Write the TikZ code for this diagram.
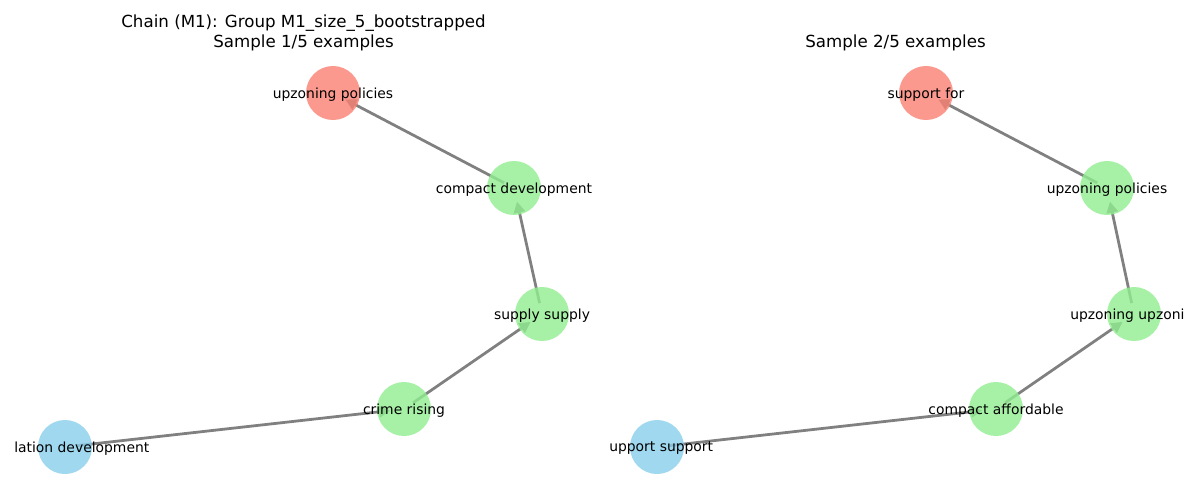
\documentclass[tikz,border=0pt]{standalone}
\usepackage{fontspec}
\setmainfont{DejaVu Sans}
\usetikzlibrary{arrows.meta,backgrounds}
\definecolor{salmon}{HTML}{FA8072}
\definecolor{lightgreen}{HTML}{90EE90}
\definecolor{skyblue}{HTML}{87CEEB}

\begin{document}
\begin{tikzpicture}[x=0.72pt,y=-0.72pt,
    vertex/.style={circle,minimum size=38.9pt,inner sep=0pt,fill opacity=0.8},
    redvertex/.style={vertex,fill=salmon},
    greenvertex/.style={vertex,fill=lightgreen},
    bluevertex/.style={vertex,fill=skyblue},
    tag/.style={inner sep=0pt,yshift=-1pt,font=\fontsize{10pt}{12pt}\selectfont},
    heading/.style={inner sep=0pt,align=center,font=\fontsize{12pt}{14.4pt}\selectfont},
    edge/.style={draw=gray,line width=2pt,-{Triangle[length=8pt,width=8pt]},
        shorten <=8pt,shorten >=10pt}]
    \useasboundingbox (0,0) rectangle (1200,500);

    % Sample 1/5
    \node[heading] (titleA) at (303.5,32.5) {Chain (M1): Group M1\_size\_5\_bootstrapped\\Sample 1/5 examples};

    \node[redvertex] (upzPol) at (333,93) {};
    \node[greenvertex] (compDev) at (514,188) {};
    \node[greenvertex] (suppSup) at (542,314) {};
    \node[greenvertex] (crimeRis) at (404,409) {};
    \node[bluevertex] (popDev) at (65,447) {};

    \node[tag] at (upzPol) {upzoning policies};
    \node[tag] at (compDev) {compact development};
    \node[tag] at (suppSup) {supply supply};
    \node[tag] at (crimeRis) {crime rising};
    \node[tag,anchor=west] (popDevTag) at (14,447) {lation development};

    \begin{scope}[on background layer]
        \draw[edge] (popDev.center) -- (crimeRis.center);
        \draw[edge] (crimeRis.center) -- (suppSup.center);
        \draw[edge] (suppSup.center) -- (compDev.center);
        \draw[edge] (compDev.center) -- (upzPol.center);
    \end{scope}

    % Sample 2/5
    \node[heading] (titleB) at (895.5,43) {Sample 2/5 examples};

    \node[redvertex] (suppFor) at (926,93) {};
    \node[greenvertex] (upzPolB) at (1107,188) {};
    \node[greenvertex] (upzUpz) at (1134,314) {};
    \node[greenvertex] (compAff) at (996,409) {};
    \node[bluevertex] (suppSupB) at (657,447) {};

    \node[tag] at (suppFor) {support for};
    \node[tag] at (upzPolB) {upzoning policies};
    \node[tag,anchor=west] (upzUpzTag) at (1070,314) {upzoning upzoni};
    \node[tag] at (compAff) {compact affordable};
    \node[tag,anchor=west] (suppSupTag) at (609,447) {upport support};

    \begin{scope}[on background layer]
        \draw[edge] (suppSupB.center) -- (compAff.center);
        \draw[edge] (compAff.center) -- (upzUpz.center);
        \draw[edge] (upzUpz.center) -- (upzPolB.center);
        \draw[edge] (upzPolB.center) -- (suppFor.center);
    \end{scope}

\end{tikzpicture}
\end{document}
